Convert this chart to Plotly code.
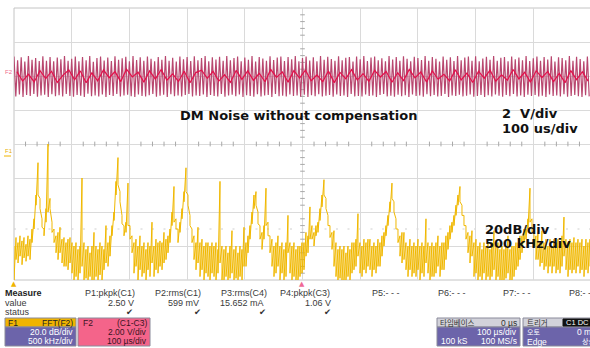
import plotly.graph_objects as go

# ---------------- data ----------------
# Time trace F2 = C1-C3, 2 V/div, 100 us/div : positive and negative peaks of each cycle (V)
RED_TOPS_V = [
    1.15, 0.92, 1.10, 0.85, 1.18, 0.95, 1.05, 0.88, 1.16, 0.90, 1.12, 0.86, 1.08, 0.98, 1.17, 0.89,
    1.02, 1.14, 0.87, 1.11, 0.93, 1.18, 0.84, 1.06, 1.15, 0.91, 1.09, 0.88, 1.16, 0.96, 1.04, 1.13,
    0.86, 1.17, 0.94, 1.10, 0.89, 1.15, 1.01, 0.87, 1.12, 0.95, 1.18, 0.90, 1.07, 0.85, 1.14, 0.99,
    1.11, 0.88, 1.16, 0.93, 1.05, 1.17, 0.86, 1.10, 0.97, 1.13, 0.89, 1.18, 0.92, 1.06, 1.15, 0.87,
    1.09, 0.96, 1.17, 0.85, 1.12, 1.03, 0.90, 1.16, 0.94, 1.08, 1.14, 0.88, 1.11, 0.99, 1.18, 0.86,
    1.05, 1.15, 0.91, 1.10, 0.87, 1.17, 0.95, 1.13, 1.00, 0.89, 1.16, 0.93, 1.07, 1.12, 0.85, 1.14,
    0.98, 1.18, 0.88, 1.09, 1.15, 0.92, 1.04, 0.86, 1.17, 0.97, 1.11, 0.90, 1.16, 1.02, 0.87, 1.13,
    1.06, 0.94, 1.18, 0.89, 1.12, 1.01, 0.85, 1.15, 0.96, 1.10, 0.88, 1.17, 0.93, 1.08, 1.14, 0.90,
    1.16, 0.87, 1.03, 1.13, 0.95, 1.18, 0.89, 1.07, 1.11, 0.86, 1.15, 0.98, 1.09, 0.92, 1.17, 0.88,
    1.04, 1.14, 0.90, 1.12, 0.97, 1.16, 0.85, 1.10, 1.06, 0.93, 1.18, 0.89, 1.13, 1.00, 0.87, 1.15,
]
RED_BOTTOMS_V = [
    -1.20, -1.08, -1.23, -1.12, -1.18, -1.05, -1.22, -1.15, -1.10, -1.24, -1.07, -1.19, -1.13, -1.21, -1.06, -1.17,
    -1.22, -1.11, -1.16, -1.24, -1.04, -1.19, -1.14, -1.21, -1.09, -1.23, -1.12, -1.18, -1.06, -1.20, -1.15, -1.10,
    -1.19, -1.23, -1.08, -1.17, -1.21, -1.13, -1.05, -1.22, -1.16, -1.10, -1.24, -1.07, -1.19, -1.14, -1.20, -1.11,
    -1.06, -1.21, -1.15, -1.18, -1.09, -1.23, -1.12, -1.17, -1.20, -1.05, -1.22, -1.14, -1.10, -1.19, -1.08, -1.24,
    -1.13, -1.18, -1.22, -1.07, -1.20, -1.15, -1.11, -1.23, -1.06, -1.19, -1.16, -1.21, -1.09, -1.17, -1.14, -1.22,
    -1.10, -1.24, -1.13, -1.19, -1.07, -1.21, -1.16, -1.12, -1.22, -1.08, -1.18, -1.15, -1.23, -1.05, -1.20, -1.17,
    -1.21, -1.09, -1.18, -1.14, -1.23, -1.11, -1.06, -1.20, -1.16, -1.22, -1.10, -1.19, -1.13, -1.24, -1.08, -1.17,
    -1.15, -1.22, -1.07, -1.19, -1.12, -1.21, -1.17, -1.05, -1.23, -1.14, -1.18, -1.10, -1.20, -1.16, -1.09, -1.22,
    -1.18, -1.11, -1.24, -1.13, -1.20, -1.08, -1.16, -1.22, -1.12, -1.19, -1.06, -1.21, -1.15, -1.23, -1.10, -1.17,
    -1.12, -1.20, -1.16, -1.23, -1.09, -1.18, -1.14, -1.21, -1.07, -1.22, -1.17, -1.11, -1.19, -1.24, -1.13, -1.20,
]
# bright inner wobble of the same trace, one value every 10 us (V)
RED_CORE_V = [
    0.25, -0.30, 0.10, -0.35, 0.32, -0.15, 0.28, -0.38, 0.05, 0.35, -0.22, 0.30, -0.40, 0.18, -0.28, 0.36, -0.10, 0.26, -0.33, 0.40,
    -0.05, 0.22, -0.36, 0.30, -0.18, 0.38, -0.25, 0.12, -0.32, 0.28, -0.40, 0.20, 0.34, -0.14, 0.27, -0.30, 0.08, -0.38, 0.33, -0.20,
    0.30, -0.26, 0.16, -0.34, 0.38, -0.08, 0.24, -0.36, 0.31, -0.12, 0.35, -0.28, 0.06, -0.33, 0.29, -0.39, 0.21, -0.16, 0.37, -0.24,
    0.14, -0.31, 0.33, -0.06, 0.26, -0.37, 0.19, -0.27, 0.39, -0.11, 0.23, -0.35, 0.30, -0.19, 0.10, -0.29, 0.36, -0.23, 0.17, -0.38,
    0.28, -0.13, 0.34, -0.31, 0.07, -0.25, 0.38, -0.17, 0.22, -0.36, 0.31, -0.09, 0.27, -0.33, 0.15, -0.40, 0.32, -0.21, 0.25, -0.30,
]
# Spectrum F1 = FFT(F2), 20 dB/div, 500 kHz/div ; dB relative to the centre graticule line.
# The scope draws each display column from its maximum to its minimum bin value.
FFT_MAX_DB = [
    -60, -55, -58, -54, -57, -55, -59, -54, -56, -50,
    -44, -30, -11, -32, -44, -50, -38, 0, -32, -46,
    -50, -54, -52, -49, -56, -55, -58, -56, -55, -58,
    -60, -58, -62, -60, -20, -58, -62, -60, -64, -60,
    -52, -60, -62, -58, -60, -62, -48, -58, -54, -48,
    -40, -22, -8, -28, -42, -48, -46, -23, -48, -54,
    -58, -56, -60, -54, -60, -58, -62, -58, -60, -46,
    -60, -56, -58, -57, -58, -52, -56, -54, -50, -40,
    -25, -44, -50, -46, -38, -28, -14, -30, -42, -50,
    -54, -58, -49, -58, -56, -60, -58, -58, -60, -58,
    -60, -58, -62, -22, -60, -62, -60, -64, -60, -51,
    -62, -60, -64, -60, -62, -49, -58, -54, -48, -40,
    -30, -28, -40, -48, -52, -48, -26, -46, -54, -56,
    -60, -58, -54, -60, -58, -62, -58, -42, -58, -60,
    -58, -62, -60, -60, -58, -58, -52, -54, -37, -48,
    -52, -48, -46, -38, -30, -21, -32, -42, -48, -52,
    -51, -58, -62, -60, -62, -60, -64, -60, -62, -58,
    -58, -56, -41, -58, -60, -56, -58, -56, -56, -60,
    -58, -60, -56, -58, -54, -52, -48, -42, -34, -23,
    -34, -44, -50, -54, -52, -52, -58, -60, -56, -60,
    -58, -60, -56, -60, -58, -60, -44, -58, -60, -58,
    -60, -58, -54, -60, -58, -58, -54, -52, -48, -46,
    -42, -36, -30, -25, -36, -42, -48, -52, -54, -51,
    -58, -56, -60, -58, -62, -58, -60, -58, -62, -58,
    -51, -60, -58, -62, -60, -62, -60, -54, -62, -60,
    -60, -58, -58, -54, -54, -50, -50, -44, -26, -44,
    -50, -54, -52, -58, -51, -58, -56, -60, -56, -60,
    -56, -58, -56, -58, -54, -43, -56, -58, -56, -58,
    -55, -58, -56, -58, -56, -60, -56, -58, -56,
]
FFT_MIN_DB = [
    -80, -68, -70, -66, -71, -67, -69, -66, -68, -58,
    -50, -36, -30, -38, -49, -54, -46, -40, -38, -52,
    -58, -64, -68, -64, -70, -72, -72, -74, -70, -76,
    -80, -78, -80, -76, -72, -80, -79, -80, -78, -80,
    -80, -78, -80, -77, -80, -74, -70, -72, -66, -54,
    -45, -30, -24, -34, -47, -54, -52, -48, -56, -64,
    -76, -72, -80, -74, -78, -76, -80, -74, -78, -70,
    -78, -74, -76, -72, -74, -70, -68, -64, -58, -48,
    -46, -50, -58, -52, -44, -34, -28, -36, -48, -58,
    -68, -74, -70, -78, -74, -80, -76, -78, -80, -76,
    -78, -80, -76, -70, -80, -80, -78, -80, -79, -76,
    -80, -79, -80, -78, -80, -72, -72, -64, -56, -47,
    -38, -36, -47, -56, -62, -56, -48, -54, -64, -72,
    -78, -76, -72, -80, -76, -80, -78, -64, -76, -80,
    -78, -80, -80, -78, -76, -74, -66, -64, -56, -56,
    -60, -54, -52, -45, -37, -30, -38, -48, -55, -62,
    -72, -78, -80, -79, -80, -80, -80, -78, -80, -76,
    -74, -72, -66, -76, -78, -74, -76, -72, -74, -78,
    -74, -76, -72, -72, -66, -60, -54, -48, -40, -32,
    -40, -50, -58, -66, -70, -68, -74, -78, -74, -78,
    -76, -78, -74, -80, -76, -78, -70, -76, -80, -78,
    -78, -76, -72, -78, -74, -74, -68, -62, -56, -52,
    -48, -42, -36, -34, -42, -48, -56, -64, -70, -66,
    -78, -76, -80, -78, -80, -76, -80, -78, -80, -78,
    -74, -80, -78, -80, -80, -80, -79, -76, -80, -80,
    -78, -74, -72, -68, -64, -58, -56, -50, -46, -52,
    -60, -68, -68, -72, -70, -74, -72, -76, -72, -76,
    -72, -76, -74, -76, -72, -66, -74, -78, -74, -76,
    -74, -76, -72, -76, -74, -78, -74, -76, -72,
]
FFT_BIN_KHZ = 17.33          # frequency width of one display column above
CORE_STEP_US = 10.0
TIME_SPAN_US = 1000.0        # 10 div x 100 us/div
US_PER_DIV, V_PER_DIV = 100.0, 2.0
KHZ_PER_DIV, DB_PER_DIV = 500.0, 20.0
RED_OFFSET_DIV, FFT_OFFSET_DIV = 6.0, 4.0

MEAS_NAMES = ["P1:pkpk(C1)", "P2:rms(C1)", "P3:rms(C4)", "P4:pkpk(C3)", "P5:- - -", "P6:- - -", "P7:- - -", "P8:- - -"]
MEAS_VALUES = ["2.50 V", "599 mV", "15.652 mA", "1.06 V"]

# ---------------- layout geometry ----------------
W, H = 590, 348
L, T = 14, 8
PW, PH = 576, 272
XDIV = 57.7

def px(x):
    return (x - L) / PW

def py(y):
    return (T + PH - y) / PH

fig = go.Figure()

# graticule centre-line minor ticks
tx, ty = [], []
for k in range(1, 50):
    if k % 5:
        tx += [k * 0.2, k * 0.2, None]
        ty += [4 - 0.07, 4 + 0.07, None]
for k in range(1, 40):
    if k % 5:
        tx += [5 - 0.04, 5 + 0.04, None]
        ty += [k * 0.2, k * 0.2, None]
fig.add_trace(go.Scatter(x=tx, y=ty, mode="lines", line=dict(color="#a8a8a8", width=1),
                         hoverinfo="skip", showlegend=False))

# red time trace
red_v = []
for a, b in zip(RED_TOPS_V, RED_BOTTOMS_V):
    red_v += [a, b]
n = len(red_v)
red_t = [k * TIME_SPAN_US / n for k in range(n)]
fig.add_trace(go.Scatter(x=[t / US_PER_DIV for t in red_t],
                         y=[RED_OFFSET_DIV + v / V_PER_DIV for v in red_v],
                         mode="lines", line=dict(color="#b8476f", width=1.2),
                         hoverinfo="skip", showlegend=False))
core_t = [CORE_STEP_US / 2 + k * CORE_STEP_US for k in range(len(RED_CORE_V))]
fig.add_trace(go.Scatter(x=[t / US_PER_DIV for t in core_t],
                         y=[RED_OFFSET_DIV + v / V_PER_DIV for v in RED_CORE_V],
                         mode="lines", line=dict(color="#e3104a", width=1.2),
                         hoverinfo="skip", showlegend=False))

# yellow FFT trace: each display column drawn from its max down to its min
fx, fy = [], []
for k, (hi, lo) in enumerate(zip(FFT_MAX_DB, FFT_MIN_DB)):
    xd = k * FFT_BIN_KHZ / KHZ_PER_DIV
    for d in (hi, lo):
        fx.append(xd)
        fy.append(FFT_OFFSET_DIV + d / DB_PER_DIV)
fig.add_trace(go.Scatter(x=fx, y=fy, mode="lines", line=dict(color="#f0b800", width=1),
                         hoverinfo="skip", showlegend=False))

shapes = []
# frame
for (x0, y0, x1, y1) in [(L, T, W, T), (L, T, L, T + PH), (L, T + PH, W, T + PH)]:
    shapes.append(dict(type="line", xref="paper", yref="paper", x0=px(x0), y0=py(y0), x1=px(x1), y1=py(y1),
                       line=dict(color="#c4c4c4", width=1), layer="below"))
# faint dotted level
shapes.append(dict(type="line", xref="x", yref="y", x0=0, x1=10, y0=1.5, y1=1.5,
                   line=dict(color="#cfcfcf", width=1, dash="2px,9.5px"), layer="below"))


def box(x0, y0, x1, y1, fill, line="#8a8a9a"):
    shapes.append(dict(type="rect", xref="paper", yref="paper", x0=px(x0), x1=px(x1), y0=py(y1), y1=py(y0),
                       fillcolor=fill, line=dict(color=line, width=1), layer="above"))


PURPLE = "#6c64aa"
box(5, 318, 76, 327, "#f0b400")
box(5, 327, 76, 346, PURPLE)
box(78, 318, 150, 346, "#f4648a")
box(437, 318, 520, 327, "#d2d2da")
box(437, 327, 520, 346, PURPLE)
box(523, 318, 596, 327, "#d2d2da")
box(523, 327, 596, 346, PURPLE)
box(563, 319, 596, 326, "#111111", line="#111111")
# F1 underline
shapes.append(dict(type="line", xref="paper", yref="paper", x0=px(4), x1=px(11), y0=py(156), y1=py(156),
                   line=dict(color="#f0b400", width=1)))

ann = []


def text(s, x, y, anchor="left", size=9, color="#3a3a3a", family="Liberation Sans, Arial"):
    ann.append(dict(text=s, x=px(x), y=py(y), xref="paper", yref="paper", xanchor=anchor, yanchor="middle",
                    showarrow=False, font=dict(size=size, color=color, family=family), borderpad=0))


BIG = "DejaVu Sans"
text("<b>DM Noise without compensation</b>", 298, 115, "center", 13, "#111", BIG)
text("<b>2\u00a0 V/div</b>", 501, 114, "left", 13, "#111", BIG)
text("<b>100 us/div</b>", 501, 128, "left", 13, "#111", BIG)
text("<b>20dB/div</b>", 484, 229, "left", 13, "#111", BIG)
text("<b>500 kHz/div</b>", 484, 243, "left", 13, "#111", BIG)

text("F2", 4, 72, "left", 6, "#f06a8e")
text("F1", 4, 151, "left", 6, "#e8b000")
text("▲", 14, 284, "center", 7, "#f0b400", "DejaVu Sans")
text("▲", 302, 284, "center", 7, "#f06a96", "DejaVu Sans")

text("<b>Measure</b>", 4, 293, "left", 9, "#222")
text("value", 4, 302.5, "left", 9)
text("status", 4, 312, "left", 9)
name_x = [84, 154, 220, 279, 371, 437, 502, 568]
for s, x in zip(MEAS_NAMES, name_x):
    text(s, x, 293)
val_x = [135, 200, 265, 332]
for s, x in zip(MEAS_VALUES, val_x):
    text(s, x, 302.5, "right")
for x in [129, 197, 262, 327]:
    text("✔", x, 312, "center", 8.5, "#333", "DejaVu Sans")

text("F1", 7, 322.5, "left", 8.5, "#222")
text("FFT(F2)", 74, 322.5, "right", 8.5, "#222")
text("20.0 dB/div", 74, 332, "right", 8.5, "#ffffff")
text("500 kHz/div", 74, 341, "right", 8.5, "#ffffff")
text("F2", 82, 322.5, "left", 8.5, "#3a1424")
text("(C1-C3)", 148, 322.5, "right", 8.5, "#3a1424")
text("2.00 V/div", 148, 332, "right", 8.5, "#3a1424")
text("100 µs/div", 148, 341, "right", 8.5, "#3a1424")

CJK = "Noto Sans CJK KR"
text("타임베이스", 439, 322.5, "left", 7.5, "#333", CJK)
text("0 µs", 518, 322.5, "right", 8.5, "#333")
text("100 µs/div", 518, 332, "right", 8.5, "#ffffff")
text("100 kS", 440, 341, "left", 8.5, "#ffffff")
text("100 MS/s", 518, 341, "right", 8.5, "#ffffff")
text("트리거", 526, 322.5, "left", 7.5, "#333", CJK)
text("C1 DC", 565, 322.5, "left", 7.5, "#ffffff")
text("오토", 526, 331.5, "left", 7, "#ffffff", CJK)
text("0 mV", 598, 332, "right", 8.5, "#ffffff")
text("Edge", 526, 341.5, "left", 8.5, "#ffffff")
text("상승", 596, 341, "right", 7, "#ffffff", CJK)

fig.update_layout(
    width=W, height=H, autosize=False,
    margin=dict(l=L, r=W - L - PW, t=T, b=H - T - PH, pad=0),
    paper_bgcolor="white", plot_bgcolor="white",
    showlegend=False, shapes=shapes, annotations=ann,
    xaxis=dict(range=[0, PW / XDIV], tick0=0, dtick=1, showgrid=True, gridcolor="#dadada", gridwidth=1,
               zeroline=False, showticklabels=False, ticks="", showline=False, fixedrange=True),
    yaxis=dict(range=[0, 8], tick0=0, dtick=1, showgrid=True, gridcolor="#dadada", gridwidth=1,
               zeroline=False, showticklabels=False, ticks="", showline=False, fixedrange=True),
)

fig.write_html("out.html", config=dict(displayModeBar=False))
